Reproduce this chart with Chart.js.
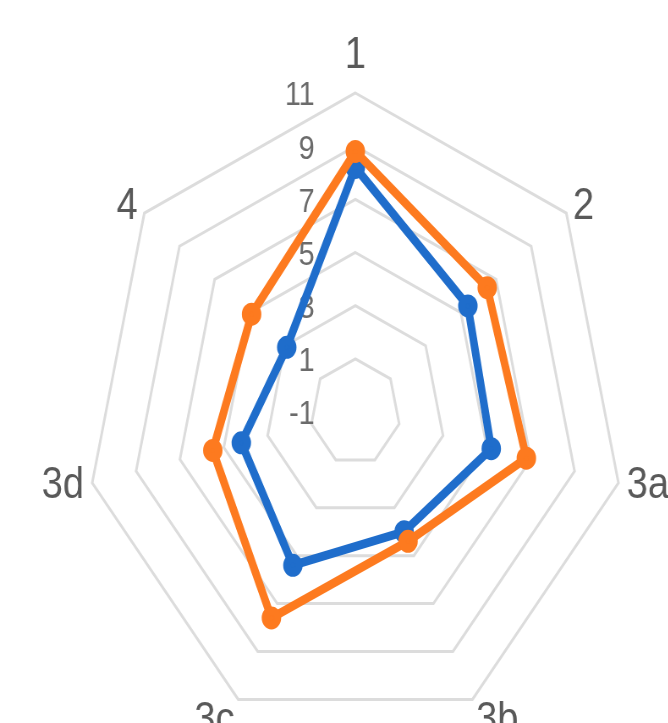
<!DOCTYPE html>
<html>
<head>
<meta charset="utf-8">
<script src="https://cdn.jsdelivr.net/npm/chart.js@4.4.0/dist/chart.umd.min.js"></script>
<style>
  html, body { margin: 0; padding: 0; background: #ffffff; overflow: hidden; width: 668px; height: 723px; }
  #wrap { position: absolute; left: 0; top: 0; width: 790px; height: 780px; transform: scaleX(0.846); transform-origin: 0 0; }
</style>
</head>
<body>
<div id="wrap"><canvas id="chart" width="790" height="780"></canvas></div>
<script>
// Axis categories, clockwise from the top
const categories = ['1', '2', '3a', '3b', '3c', '3d', '4'];

// Series values
const seriesBlue   = [8.2, 5.4, 5.2, 4.0, 5.4, 4.2, 2.9];
const seriesOrange = [8.8, 6.5, 6.8, 4.4, 7.6, 5.5, 4.9];

// Radial axis range; tick labels come from these
const axisMin = -1;
const axisMax = 11;
const axisStep = 2;

const BLUE = '#1f6dcb';
const ORANGE = '#fd7a1f';

// Tick labels sit left of the vertical axis, right-aligned, under the lines
const tickLabelPlugin = {
  id: 'tickLabels',
  beforeDatasetsDraw(chart) {
    const s = chart.scales.r;
    const ctx = chart.ctx;
    ctx.save();
    ctx.font = '34px "Liberation Sans", Arial, sans-serif';
    ctx.fillStyle = '#6b6b6b';
    ctx.textAlign = 'right';
    ctx.textBaseline = 'middle';
    s.ticks.forEach(t => {
      const d = s.getDistanceFromCenterForValue(t.value);
      ctx.fillText(String(t.value), s.xCenter - 48, s.yCenter - d + 3);
    });
    ctx.restore();
  }
};

// Category labels just outside the outer ring
const pointLabelPlugin = {
  id: 'outerLabels',
  beforeDatasetsDraw(chart) {
    const s = chart.scales.r;
    const ctx = chart.ctx;
    const pad = 10, half = 27;
    ctx.save();
    ctx.font = '45px "Liberation Sans", Arial, sans-serif';
    ctx.fillStyle = '#595959';
    ctx.textBaseline = 'middle';
    chart.data.labels.forEach((lab, i) => {
      const p = s.getPointPosition(i, s.drawingArea + pad);
      const dx = p.x - s.xCenter, dy = p.y - s.yCenter;
      let y = p.y;
      if (Math.abs(dx) < 1) {
        ctx.textAlign = 'center';
        y += dy < 0 ? -half : half;
      } else {
        ctx.textAlign = dx > 0 ? 'left' : 'right';
        // the two lower labels hang below their corners
        if (dy > s.drawingArea * 0.5) y += 12;
      }
      ctx.fillText(lab, p.x, y);
    });
    ctx.restore();
  }
};

new Chart(document.getElementById('chart'), {
  type: 'radar',
  data: {
    labels: categories,
    datasets: [
      {
        label: 'Series 1',
        data: seriesBlue,
        borderColor: BLUE,
        backgroundColor: BLUE,
        pointBackgroundColor: BLUE,
        pointBorderColor: BLUE,
        borderWidth: 9,
        pointRadius: 7,
        fill: false,
        tension: 0,
        order: 1
      },
      {
        label: 'Series 2',
        data: seriesOrange,
        borderColor: ORANGE,
        backgroundColor: ORANGE,
        pointBackgroundColor: ORANGE,
        pointBorderColor: ORANGE,
        borderWidth: 9,
        pointRadius: 7,
        fill: false,
        tension: 0,
        order: 0
      }
    ]
  },
  options: {
    responsive: false,
    animation: false,
    layout: { padding: { left: 101, top: 93, right: 51, bottom: 49 } },
    plugins: { legend: { display: false }, tooltip: { enabled: false } },
    elements: { line: { borderJoinStyle: 'miter' } },
    scales: {
      r: {
        min: axisMin,
        max: axisMax,
        beginAtZero: false,
        ticks: { stepSize: axisStep, display: false },
        grid: { color: '#dcdcdc', lineWidth: 3 },
        angleLines: { display: false },
        pointLabels: { display: false }
      }
    }
  },
  plugins: [tickLabelPlugin, pointLabelPlugin]
});
</script>
</body>
</html>
